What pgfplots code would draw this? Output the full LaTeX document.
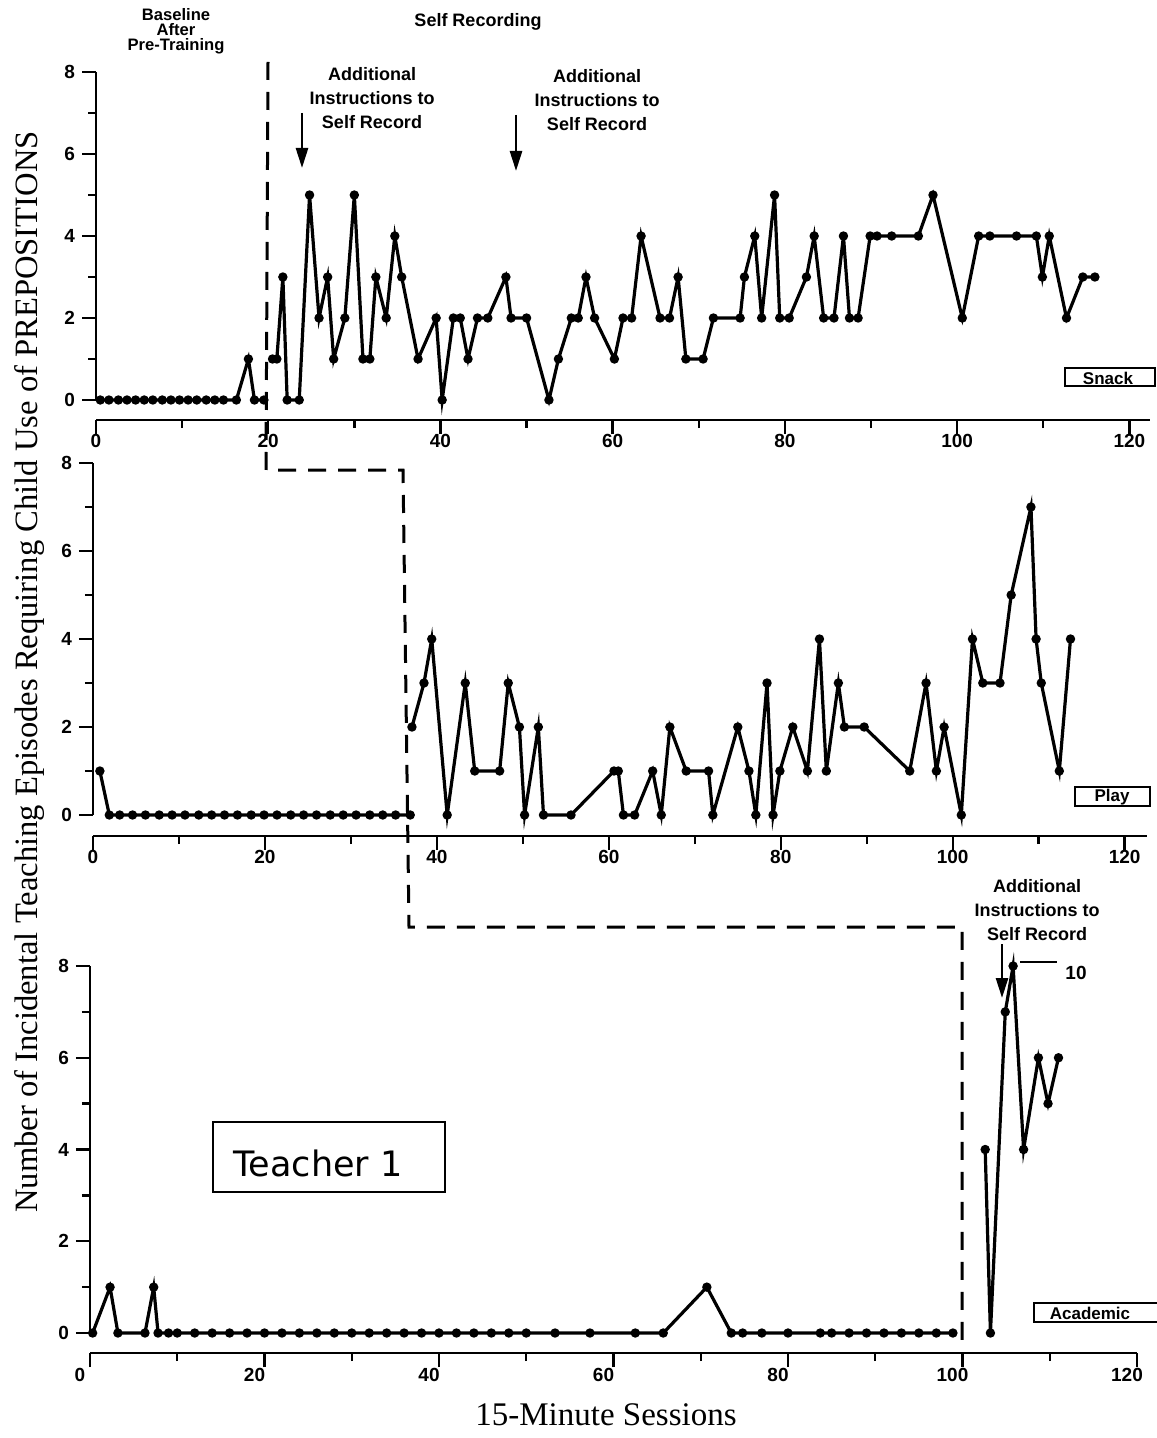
\documentclass[border=0pt]{standalone}
\usepackage{fontspec}
\setmainfont{Liberation Serif}
\setsansfont{Liberation Sans}
\newfontfamily\verd{DejaVu Sans}
\usepackage{pgfplots}
\pgfplotsset{compat=1.18}
\usetikzlibrary{arrows.meta}

\pgfplotsset{
  panel/.style={
    scale only axis,
    axis lines=left,
    axis line style={-, line width=1.4pt},
    xmin=0, ymin=0, ymax=8,
    xtick={0,20,...,120},
    minor xtick={10,30,...,110},
    ytick={0,2,...,8},
    minor ytick={1,3,5,7},
    tick align=outside,
    major tick length=7pt,
    minor tick length=4pt,
    tick style={line width=1.2pt, black},
    clip=false,
    tick label style={font=\fontsize{9.5}{10}\sffamily\bfseries},
    xticklabel style={yshift=3.5pt},
    /pgf/number format/assume math mode=true,
    axis x line shift=10pt,
  },
  ser/.style={black, line width=1.6pt, mark=*, mark size=1.5pt, mark options={solid}},
}

\begin{document}
\begin{tikzpicture}[x=0.5pt, y=-0.5pt]
\path[use as bounding box] (0,0) rectangle (1156,1438);
\coordinate (PA) at (96,400);
\coordinate (PB) at (93,815);
\coordinate (PC) at (90,1333);

% ---------------- Top panel: Snack ----------------
\begin{axis}[panel, at={(PA)}, anchor=south west, width=527pt, height=164pt, xmax=122.4]
\addplot[ser] coordinates {
(0.5,0)(1.5,0)(2.6,0)(3.6,0)(4.6,0)(5.6,0)(6.6,0)(7.7,0)(8.7,0)(9.7,0)(10.7,0)(11.7,0)(12.8,0)(13.8,0)(14.8,0)(16.3,0)(17.7,1)(18.4,0)(19.5,0)
};
\addplot[ser] coordinates {
(20.5,1)(21.0,1)(21.7,3)(22.2,0)(23.6,0)(24.8,5)(25.9,2)(26.9,3)(27.6,1)(28.9,2)(30.0,5)(31.0,1)(31.8,1)(32.5,3)(33.7,2)(34.7,4)(35.5,3)(37.4,1)(39.5,2)(40.2,0)(41.5,2)(42.3,2)(43.2,1)(44.3,2)(45.5,2)(47.6,3)(48.2,2)(50.0,2)(52.6,0)(53.7,1)(55.2,2)(56.0,2)(56.9,3)(57.9,2)(60.2,1)(61.2,2)(62.2,2)(63.3,4)(65.5,2)(66.6,2)(67.6,3)(68.5,1)(70.5,1)(71.7,2)(74.8,2)(75.3,3)(76.5,4)(77.3,2)(78.8,5)(79.4,2)(80.5,2)(82.5,3)(83.4,4)(84.5,2)(85.7,2)(86.8,4)(87.5,2)(88.5,2)(89.9,4)(90.7,4)(92.4,4)(95.5,4)(97.2,5)(100.6,2)(102.5,4)(103.8,4)(106.9,4)(109.2,4)(109.9,3)(110.7,4)(112.7,2)(114.6,3)(116.0,3)
};
\end{axis}

% ---------------- Middle panel: Play ----------------
\begin{axis}[panel, at={(PB)}, anchor=south west, width=527pt, height=176pt, xmax=122.6, axis x line shift=10.5pt]
\addplot[ser] coordinates {
(0.8,1)(1.9,0)(3.1,0)(4.6,0)(6.1,0)(7.7,0)(9.2,0)(10.7,0)(12.3,0)(13.8,0)(15.3,0)(16.8,0)(18.4,0)(19.9,0)(21.4,0)(23.0,0)(24.5,0)(26.0,0)(27.6,0)(29.1,0)(30.6,0)(32.2,0)(33.7,0)(35.2,0)(36.9,0)
};
\addplot[ser] coordinates {
(37.1,2)(38.5,3)(39.4,4)(41.2,0)(43.3,3)(44.4,1)(47.3,1)(48.3,3)(49.6,2)(50.2,0)(51.8,2)(52.4,0)(55.6,0)(60.6,1)(61.1,1)(61.7,0)(63.0,0)(65.1,1)(66.1,0)(67.1,2)(69.0,1)(71.6,1)(72.1,0)(75.0,2)(76.3,1)(77.1,0)(78.4,3)(79.1,0)(79.9,1)(81.4,2)(83.1,1)(84.5,4)(85.3,1)(86.7,3)(87.4,2)(89.7,2)(95.0,1)(96.9,3)(98.1,1)(99.0,2)(101.0,0)(102.3,4)(103.5,3)(105.5,3)(106.8,5)(109.1,7)(109.7,4)(110.3,3)(112.4,1)(113.7,4)
};
\end{axis}

% ---------------- Bottom panel: Academic ----------------
\begin{axis}[panel, at={(PC)}, anchor=south west, width=523.5pt, height=183.5pt, xmax=120,
  xticklabel style={yshift=-0.5pt, xshift=-5pt}]
\addplot[ser] coordinates {
(0.3,0)(2.3,1)(3.2,0)(6.3,0)(7.3,1)(7.8,0)(9,0)(10,0)(12,0)(14,0)(16,0)(18,0)(20,0)(22,0)(24,0)(26,0)(28,0)(30,0)(32,0)(34,0)(36,0)(38,0)(40,0)(42,0)(44,0)(46,0)(48,0)(50,0)(53.3,0)(57.3,0)(62.5,0)(65.7,0)(70.7,1)(73.5,0)(74.8,0)(77,0)(80,0)(83.7,0)(85.0,0)(87,0)(89,0)(91,0)(93,0)(95,0)(97,0)(98.9,0)
};
\addplot[ser] coordinates {
(102.6,4)(103.2,0)(104.9,7)(105.8,8)(107.0,4)(108.7,6)(109.8,5)(111.0,6)
};
\end{axis}

% ---------------- Phase lines ----------------
\draw[line width=1.5pt, dash pattern=on 9pt off 6pt]
  (268,62) -- (266,470) -- (403,470) -- (409,927) -- (962,927) -- (962,1345);

% ---------------- Annotations ----------------
\begin{scope}[every node/.style={font=\fontsize{8.3}{7.4}\selectfont\sffamily\bfseries, align=center, inner sep=0pt}]
\node at (176,31) {Baseline\\After\\Pre-Training};
\end{scope}
\node[font=\fontsize{9}{10}\selectfont\sffamily\bfseries, inner sep=0pt] at (478,22) {Self Recording};
\begin{scope}[every node/.style={font=\fontsize{9}{12}\selectfont\sffamily\bfseries, align=center, inner sep=0pt}]
\node at (372,98) {Additional\\Instructions to\\Self Record};
\node at (597,100) {Additional\\Instructions to\\Self Record};
\node at (1037,910) {Additional\\Instructions to\\Self Record};
\end{scope}
\draw[line width=1.3pt, -{Triangle[length=10pt,width=6pt]}] (302,113) -- (302,168);
\draw[line width=1.3pt, -{Triangle[length=10pt,width=6pt]}] (516,115) -- (516,171);
\draw[line width=1.3pt, -{Triangle[length=10pt,width=6pt]}] (1002,944) -- (1002,998);

% off-scale value
\draw[line width=1pt] (1020,962) -- (1057,962);
\node[font=\fontsize{9.5}{10}\selectfont\sffamily\bfseries] at (1076,973) {10};

% setting labels
\draw[line width=1.2pt] (1065,368) rectangle (1155,386);
\node[font=\fontsize{8.5}{9}\selectfont\sffamily\bfseries] at (1108,378) {Snack};
\draw[line width=1.2pt] (1075,787) rectangle (1150,806);
\node[font=\fontsize{8.5}{9}\selectfont\sffamily\bfseries] at (1112,797) {Play};
\draw[line width=1.2pt] (1034,1303) rectangle (1160,1322);
\node[font=\fontsize{8.5}{9}\selectfont\sffamily\bfseries] at (1090,1313) {Academic};

% Teacher box
\draw[line width=1.2pt] (213,1122) rectangle (445,1192);
\node[font=\fontsize{17.5}{20}\selectfont\verd] at (318,1163) {Teacher 1};

% axis titles
\node[rotate=90, font=\fontsize{16.3}{18}\selectfont] at (30,672) {Number of Incidental Teaching Episodes Requiring Child Use of PREPOSITIONS};
\node[font=\fontsize{16.5}{18}\selectfont] at (606,1415) {15-Minute Sessions};
\end{tikzpicture}
\end{document}
